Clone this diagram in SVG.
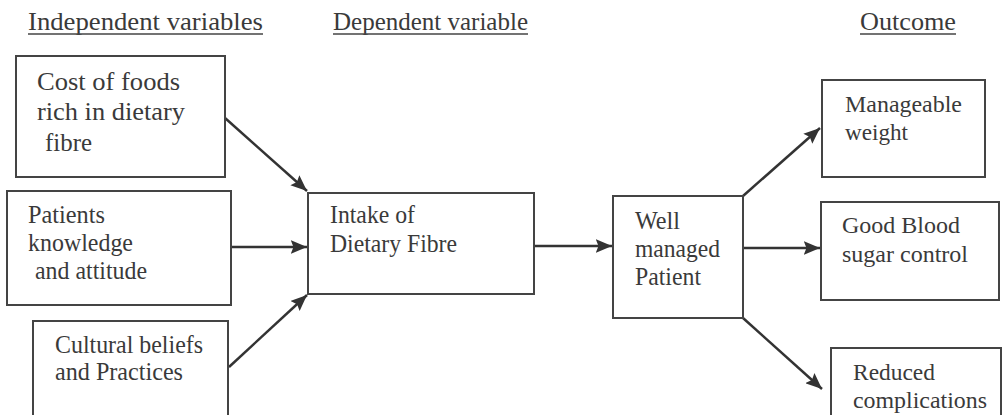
<svg xmlns="http://www.w3.org/2000/svg" width="1004" height="415" viewBox="0 0 1004 415">
<style>
text{font-family:"Liberation Serif","Times New Roman",serif;font-size:25px;fill:#3a3a3a}
.r{font-size:24px}
.box{fill:none;stroke:#444;stroke-width:2}
.hl{stroke:#444;stroke-width:1.5}
.c{stroke:#333;stroke-width:2.5;fill:none;marker-end:url(#ah)}
</style>
<defs>
<marker id="ah" viewBox="0 0 12 10" refX="12" refY="5" markerWidth="6.5" markerHeight="5.5" orient="auto" markerUnits="strokeWidth">
<path d="M0,0 L12,5 L0,10 L2,5 Z" fill="#333"/>
</marker>
</defs>
<rect width="1004" height="415" fill="#fff"/>
<g id="headers">
<text x="28" y="30" textLength="235" lengthAdjust="spacingAndGlyphs">Independent variables</text>
<line class="hl" x1="28" y1="34" x2="263" y2="34"/>
<text x="333" y="30" textLength="195" lengthAdjust="spacingAndGlyphs">Dependent variable</text>
<line class="hl" x1="333" y1="34" x2="528" y2="34"/>
<text x="860" y="30" textLength="96" lengthAdjust="spacingAndGlyphs">Outcome</text>
<line class="hl" x1="860" y1="34" x2="956" y2="34"/>
</g>
<g id="connectors">
<line class="c" x1="225" y1="118" x2="307" y2="191"/>
<line class="c" x1="231" y1="247" x2="307" y2="247"/>
<line class="c" x1="229" y1="367" x2="307" y2="295"/>
<line class="c" x1="534" y1="246" x2="612" y2="246"/>
<line class="c" x1="743" y1="196" x2="820" y2="128"/>
<line class="c" x1="743" y1="248" x2="820" y2="248"/>
<line class="c" x1="743" y1="318" x2="822" y2="389"/>
</g>
<g id="cost">
<rect class="box" x="16" y="56" width="209" height="121"/>
<text x="37" y="90" textLength="143" lengthAdjust="spacingAndGlyphs">Cost of foods</text>
<text x="37" y="120" textLength="148" lengthAdjust="spacingAndGlyphs">rich in dietary</text>
<text x="45" y="151" textLength="47" lengthAdjust="spacingAndGlyphs">fibre</text>
</g>
<g id="knowledge">
<rect class="box" x="7" y="191" width="224" height="114"/>
<text x="28" y="223" textLength="77" lengthAdjust="spacingAndGlyphs">Patients</text>
<text x="28" y="251" textLength="105" lengthAdjust="spacingAndGlyphs">knowledge</text>
<text x="35" y="279" textLength="112" lengthAdjust="spacingAndGlyphs">and attitude</text>
</g>
<g id="cultural">
<rect class="box" x="33" y="321" width="195" height="110"/>
<text x="55" y="353" textLength="148" lengthAdjust="spacingAndGlyphs">Cultural beliefs</text>
<text x="55" y="380" textLength="128" lengthAdjust="spacingAndGlyphs">and Practices</text>
</g>
<g id="intake">
<rect class="box" x="308" y="193" width="226" height="101"/>
<text x="330" y="223" textLength="85" lengthAdjust="spacingAndGlyphs">Intake of</text>
<text x="330" y="252" textLength="127" lengthAdjust="spacingAndGlyphs">Dietary Fibre</text>
</g>
<g id="well">
<rect class="box" x="613" y="196" width="130" height="122"/>
<text x="635" y="229" textLength="45" lengthAdjust="spacingAndGlyphs">Well</text>
<text x="635" y="257" textLength="85" lengthAdjust="spacingAndGlyphs">managed</text>
<text x="635" y="285" textLength="66" lengthAdjust="spacingAndGlyphs">Patient</text>
</g>
<g id="weight">
<rect class="box" x="822" y="80" width="163" height="97"/>
<text class="r" x="845" y="112" textLength="117" lengthAdjust="spacingAndGlyphs">Manageable</text>
<text class="r" x="845" y="140" textLength="63" lengthAdjust="spacingAndGlyphs">weight</text>
</g>
<g id="sugar">
<rect class="box" x="821" y="202" width="178" height="98"/>
<text class="r" x="842" y="233" textLength="118" lengthAdjust="spacingAndGlyphs">Good Blood</text>
<text class="r" x="842" y="262" textLength="126" lengthAdjust="spacingAndGlyphs">sugar control</text>
</g>
<g id="complications">
<rect class="box" x="831" y="348" width="170" height="80"/>
<text class="r" x="853" y="380" textLength="82" lengthAdjust="spacingAndGlyphs">Reduced</text>
<text class="r" x="853" y="408" textLength="134" lengthAdjust="spacingAndGlyphs">complications</text>
</g>
</svg>
